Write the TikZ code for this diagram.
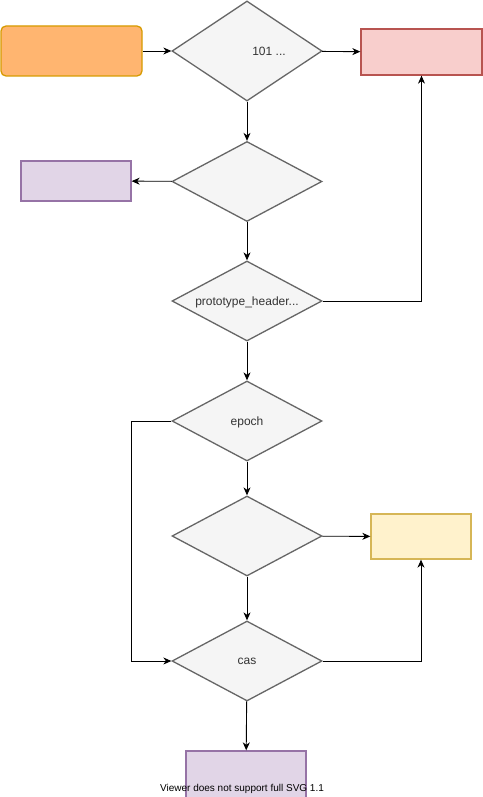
\documentclass[tikz,border=0pt]{standalone}
\usepackage{fontspec}
\setmainfont{Liberation Sans}
\usetikzlibrary{positioning,arrows.meta,shapes.geometric}

\definecolor{orangefill}{HTML}{FFB570}
\definecolor{orangeline}{HTML}{D79B00}
\definecolor{redfill}{HTML}{F8CECC}
\definecolor{redline}{HTML}{B85450}
\definecolor{purplefill}{HTML}{E1D5E7}
\definecolor{purpleline}{HTML}{9673A6}
\definecolor{yellowfill}{HTML}{FFF2CC}
\definecolor{yellowline}{HTML}{D6B656}
\definecolor{greyfill}{HTML}{F5F5F5}
\definecolor{greyline}{HTML}{666666}
\definecolor{greytext}{HTML}{333333}

\begin{document}
\begin{tikzpicture}[x=1pt,y=-1pt,->,>={Stealth[length=8pt,width=7pt,inset=2.5pt]},line width=0.9pt,
  font=\fontsize{12pt}{14pt}\selectfont,
  decision/.style={draw=greyline,fill=greyfill,text=greytext,diamond,aspect=1.875,
    inner sep=0pt,minimum width=150pt,minimum height=80pt,line width=1.3pt,text depth=0pt},
  outcome/.style={draw,rectangle,line width=1.3pt,inner sep=0pt}]

\useasboundingbox (0,0) rectangle (482,797);
\fill[white] (0,0) rectangle (482,797);

\node (request)[outcome,rounded corners=5pt,draw=orangeline,fill=orangefill,
  minimum width=141pt,minimum height=50pt] at (71.5,51) {};
\node (version)[decision,minimum height=100pt,
  label={[text=greytext,xshift=22pt,text depth=0pt]center:101 ...}] at (247,51) {};
\node (rejected)[outcome,draw=redline,fill=redfill,
  minimum width=121pt,minimum height=46pt] at (421.5,52) {};
\node (known)[decision] at (247,181.5) {};
\node (skipped)[outcome,draw=purpleline,fill=purplefill,
  minimum width=110pt,minimum height=40pt] at (76,181) {};
\node (header)[decision] at (247,301) {prototype\_header...};
\node (epoch)[decision] at (247,421) {epoch};
\node (compare)[decision] at (247,536) {};
\node (kept)[outcome,draw=yellowline,fill=yellowfill,
  minimum width=100pt,minimum height=45pt] at (421,536.5) {};
\node (cas)[decision] at (247,661) {cas};
\node (done)[outcome,draw=purpleline,fill=purplefill,
  minimum width=120pt,minimum height=50pt] at (246,776) {};
\coordinate (bypass) at (131,421);

  \path (request) edge (version)
        (version) edge (rejected)
        (version) edge (known)
        (known)   edge (skipped)
        (known)   edge (header)
        (header)  edge (epoch)
        (epoch)   edge (compare)
        (compare) edge (kept)
        (compare) edge (cas)
        (cas)     edge (done);
  \draw (header) -| (rejected);
  \draw (cas) -| (kept);
  \draw (epoch) -- (bypass) |- (cas);

\node (viewer)[font=\fontsize{10pt}{12pt}\selectfont] at (242,789) {Viewer does not support full SVG 1.1};

\end{tikzpicture}
\end{document}
